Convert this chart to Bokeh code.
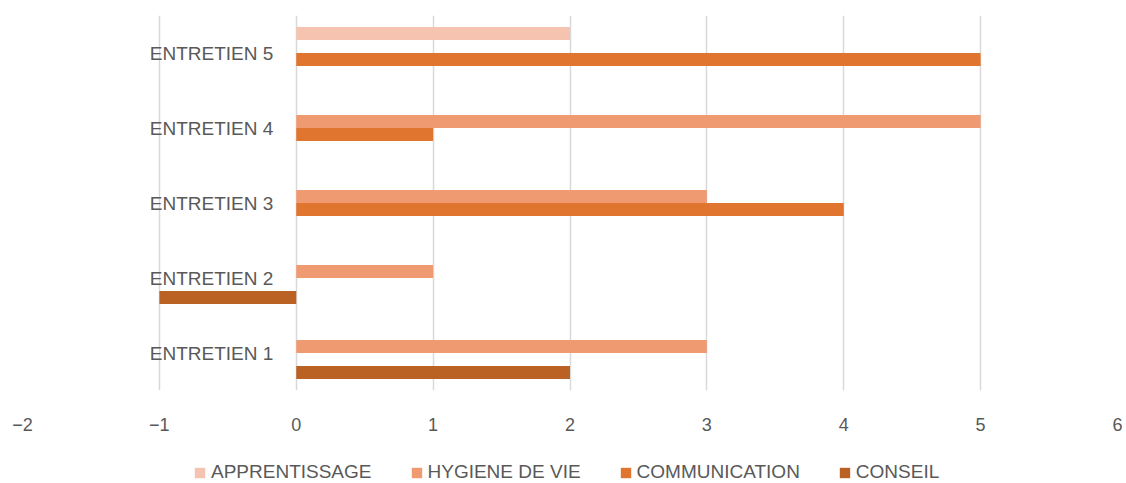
from bokeh.plotting import figure
from bokeh.layouts import column
from bokeh.models import ColumnDataSource, FactorRange, Range1d, FixedTicker, Legend, LegendItem
from bokeh.transform import dodge
from bokeh.core.properties import value
from bokeh.embed import file_html
from bokeh.resources import INLINE

categories = ["ENTRETIEN 1", "ENTRETIEN 2", "ENTRETIEN 3", "ENTRETIEN 4", "ENTRETIEN 5"]
series_names = ["APPRENTISSAGE", "HYGIENE DE VIE", "COMMUNICATION", "CONSEIL"]
apprentissage = [0, 0, 0, 0, 2]
hygiene = [3, 1, 3, 5, 0]
communication = [0, 0, 4, 1, 5]
conseil = [2, -1, 0, 0, 0]
x_ticks = [-2, -1, 0, 1, 2, 3, 4, 5, 6]

colors = ["#F5C3B0", "#F09A72", "#DF752E", "#BA6224"]
offsets = [0.26, 0.087, -0.087, -0.26]
FONT = "Liberation Sans"
TXT = "#595959"

src = ColumnDataSource(dict(cat=categories, a=apprentissage, h=hygiene, c=communication, k=conseil,
                            zero=[0] * len(categories)))

p = figure(frame_width=1095, frame_height=375, output_backend="svg", toolbar_location=None,
           y_range=FactorRange(*categories), x_range=Range1d(-2, 6),
           min_border_left=22, min_border_right=9, min_border_top=15, min_border_bottom=50)
p.outline_line_color = None
p.yaxis.visible = False
p.ygrid.grid_line_color = None
p.xgrid.grid_line_color = "#D9D9D9"
p.xgrid.grid_line_width = 1.5
p.xaxis.ticker = FixedTicker(ticks=x_ticks)
p.xaxis.axis_line_color = None
p.xaxis.major_tick_line_color = None
p.xaxis.minor_tick_line_color = None
p.xaxis.major_label_text_font = FONT
p.xaxis.major_label_text_font_size = "18px"
p.xaxis.major_label_text_color = TXT
p.xaxis.major_label_standoff = 21

for col, color, off in zip(["a", "h", "c", "k"], colors, offsets):
    p.hbar(y=dodge("cat", off, range=p.y_range), left="zero", right=col, height=0.173,
           fill_color=color, line_color=None, source=src)

p.text(x=0, y="cat", text="cat", source=src, x_offset=-23, text_align="right",
       text_baseline="middle", text_font=value(FONT), text_font_size="19px", text_color=TXT)

# legend strip (series keys only; the marker renderers sit outside the visible range)
lg = figure(frame_width=1126, frame_height=43, output_backend="svg", toolbar_location=None,
            x_range=Range1d(0, 1), y_range=Range1d(0, 1), x_axis_type=None, y_axis_type=None,
            min_border=0)
lg.outline_line_color = None
lg.grid.visible = False
key_src = ColumnDataSource(dict(y=[-5], l=[0], r=[1]))
items = []
for name, color in zip(series_names, colors):
    r = lg.hbar(y="y", left="l", right="r", height=0.5, fill_color=color, line_color=None, source=key_src)
    items.append(LegendItem(label=name, renderers=[r]))

legend = Legend(items=items, orientation="horizontal", location=(193, 0),
                label_text_font=FONT, label_text_font_size="19px", label_text_color=TXT,
                glyph_width=13, glyph_height=13, label_standoff=5, spacing=38,
                border_line_color=None, background_fill_alpha=0, margin=0, padding=0)
lg.add_layout(legend, "center")

layout = column(p, lg, spacing=0)
open("out.html", "w").write(file_html(layout, INLINE))
